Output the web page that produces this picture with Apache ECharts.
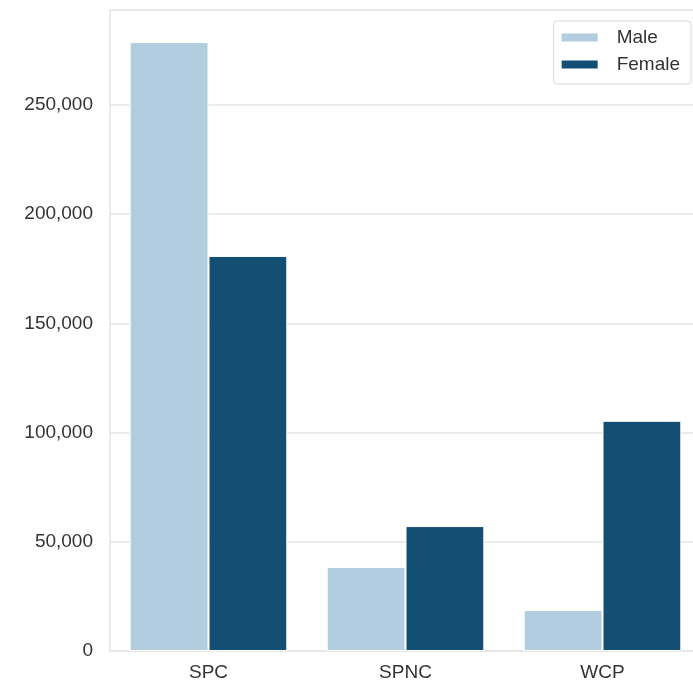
<!DOCTYPE html>
<html>
<head>
<meta charset="utf-8">
<script src="https://cdn.jsdelivr.net/npm/echarts@6/dist/echarts.min.js"></script>
<style>html,body{margin:0;padding:0;background:#fff}#c{width:693px;height:680px}</style>
</head>
<body>
<div id="c"></div>
<script>
const categories = ['SPC', 'SPNC', 'WCP'];
const maleValues = [278800, 38500, 18800];
const femaleValues = [180900, 57200, 105400];
const seriesNames = ['Male', 'Female'];

const chart = echarts.init(document.getElementById('c'));
const font = 'Liberation Sans, Arial, sans-serif';
chart.setOption({
  animation: false,
  backgroundColor: '#fff',
  grid: { left: 110, width: 591, top: 10, height: 641, outerBoundsMode: 'none', containLabel: false,
          show: true, borderColor: '#e6e6e6', borderWidth: 1.5 },
  legend: {
    orient: 'vertical', right: 2, top: 21,
    itemWidth: 38, itemHeight: 10, itemGap: 8,
    icon: 'rect',
    borderColor: '#d9d9d9', borderWidth: 1, borderRadius: 3,
    padding: [7, 11, 10, 6],
    textStyle: { fontFamily: font, fontSize: 19, color: '#333', padding: [0, 0, 0, 13] },
    data: seriesNames
  },
  xAxis: {
    type: 'category', data: categories,
    axisLine: { show: false }, axisTick: { show: false },
    axisLabel: { fontFamily: font, fontSize: 19, color: '#333', margin: 12 }
  },
  yAxis: {
    type: 'value', min: 0, max: 293500, interval: 50000,
    axisLine: { show: false }, axisTick: { show: false },
    splitLine: { lineStyle: { color: '#e6e6e6', width: 1.5 } },
    axisLabel: {
      fontFamily: font, fontSize: 19, color: '#333', margin: 17,
      showMaxLabel: false,
      formatter: v => v.toLocaleString('en-US')
    }
  },
  series: [
    { name: seriesNames[0], type: 'bar', data: maleValues, barGap: '0%', barCategoryGap: '20%',
      itemStyle: { color: '#b3cde0', borderColor: '#fff', borderWidth: 1 } },
    { name: seriesNames[1], type: 'bar', data: femaleValues,
      itemStyle: { color: '#134f72', borderColor: '#fff', borderWidth: 1 } }
  ]
});
</script>
</body>
</html>
